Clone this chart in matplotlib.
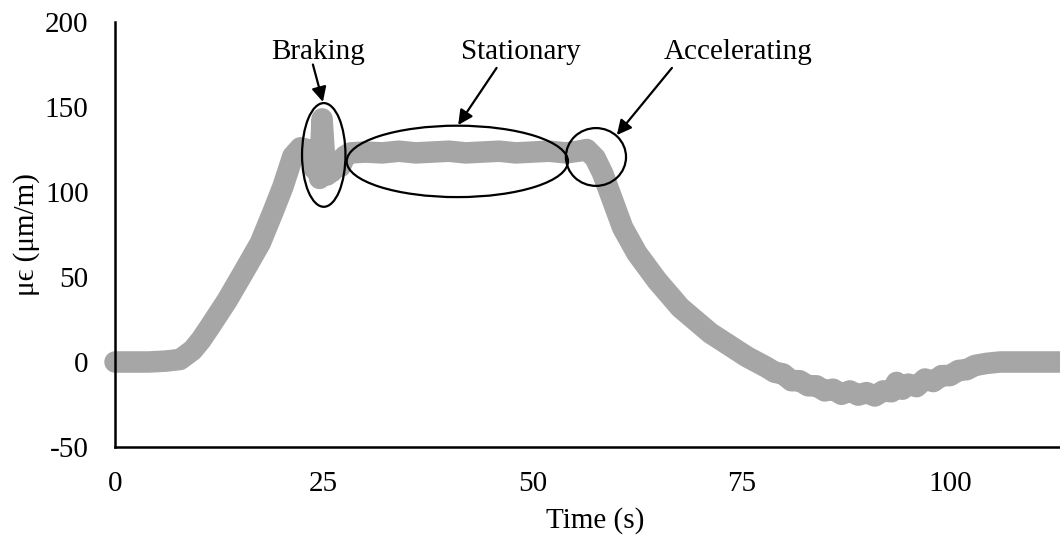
import matplotlib.pyplot as plt
from matplotlib.patches import Ellipse

plt.rcParams['font.family'] = ['Liberation Serif', 'DejaVu Serif']
plt.rcParams['font.size'] = 21
plt.rcParams['axes.unicode_minus'] = False

# strain gauge trace (time in s, microstrain)
time_s = [0, 2, 4, 6, 7.8, 9.3, 10.3, 11.4, 13.4, 15.3, 17.4, 18.9, 20.1,
          21.3, 22.2, 23.0, 23.4, 23.8, 24.2, 24.5, 24.8, 25.1, 25.4, 25.7,
          26.0, 26.5, 27.0, 27.5, 28.2, 30, 32, 34, 36, 38, 40, 42, 44, 46,
          48, 50, 52, 54, 55.5, 56.5, 57.5, 58.4, 59.6, 60.8, 62.5, 64.9,
          67.7, 71.3, 75.7, 78.0, 79.0, 80.0, 81.0, 82.0, 83.0, 84.0, 85.0,
          86.0, 87.0, 88.0, 89.0, 90.0, 91.0, 92.0, 93.0, 93.6, 94.3, 95.0,
          96.0, 97.0, 98.0, 99.0, 100.0, 101.0, 102.0, 103.0, 104.4, 106,
          108, 110, 113.5]
strain = [0, 0, 0, 0.5, 1.5, 7, 13, 21, 36, 52, 70, 88, 103,
          121, 126, 125, 124, 114, 122, 108, 143, 120, 110, 116,
          112, 118, 115, 121, 123, 123.5, 123, 124, 123, 123.5, 124, 123, 123.5, 124,
          123, 123.5, 124, 123, 124, 125, 120, 111, 95, 79, 64, 48,
          32, 17, 3, -3, -6, -7, -11, -11, -14, -14, -17, -16, -19,
          -17, -19.5, -18, -20, -17, -17.5, -12, -16, -13, -14.5,
          -10, -11.5, -8, -8, -5, -4.5, -2, -0.8, 0, 0, 0, 0]

fig = plt.figure(figsize=(10.6, 5.4), dpi=100)
ax = fig.add_axes([115 / 1060, 1 - 447 / 540, 945 / 1060, 425 / 540])

ax.plot(time_s, strain, color='#a6a6a6', lw=15.5, solid_capstyle='round',
        solid_joinstyle='round', clip_on=False, zorder=2)

# circled regions with labelled arrows
regions = [
    ('Braking', (25.0, 121.8), 5.2, 61, (24.9, 153), (23.7, 175), 24.3),
    ('Stationary', (41.0, 118.0), 26.5, 42, (41.1, 139.4), (45.7, 173), 48.6),
    ('Accelerating', (57.6, 120.6), 7.2, 34, (60.1, 133.5), (66.7, 173), 74.6),
]
for label, centre, w, h, tip, tail, tx in regions:
    ax.add_patch(Ellipse(centre, w, h, fill=False, edgecolor='black',
                         lw=1.6, zorder=3))
    ax.annotate('', xy=tip, xytext=tail,
                arrowprops=dict(arrowstyle='-|>', color='black', lw=1.6,
                                mutation_scale=22, shrinkA=0, shrinkB=0),
                zorder=4)
    ax.text(tx, 182.5, label, ha='center', va='center', zorder=4)

ax.set_xlim(0, (1060 - 115) / 8.35)
ax.set_ylim(-50, 200)
ax.set_xticks([0, 25, 50, 75, 100])
ax.set_yticks([-50, 0, 50, 100, 150, 200])
ax.tick_params(length=0)
ax.tick_params(axis='x', pad=17)
ax.tick_params(axis='y', pad=19)

for side in ('top', 'right'):
    ax.spines[side].set_visible(False)
for side in ('left', 'bottom'):
    ax.spines[side].set_linewidth(1.8)

ax.set_xlabel('Time (s)')
ax.xaxis.set_label_coords(0.508, -0.172)
ax.xaxis.label.set_va('center')
ax.set_ylabel('μϵ (μm/m)')
ax.yaxis.set_label_coords(-0.094, 0.5)
ax.yaxis.label.set_va('center')

fig.savefig('out.png', dpi=100)
